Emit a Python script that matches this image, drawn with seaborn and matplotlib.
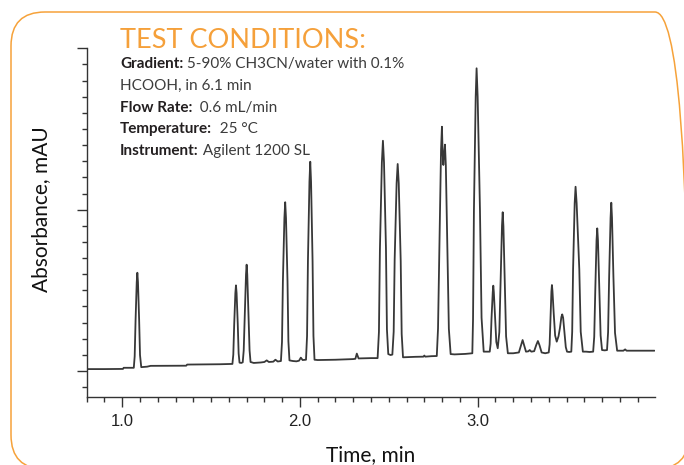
import numpy as np
import pandas as pd
import matplotlib
matplotlib.use("Agg")
import matplotlib.pyplot as plt
from matplotlib.ticker import MultipleLocator
from matplotlib.patches import FancyBboxPatch
from matplotlib.transforms import IdentityTransform
import seaborn as sns

# ---- chromatogram trace (time in min, absorbance in arbitrary mAU units)
trace_time = [
    0.800, 0.900, 1.004, 1.008, 1.050,
    1.065, 1.070, 1.075, 1.0815, 1.085, 1.0885, 1.095, 1.100, 1.107,
    1.140, 1.160, 1.360, 1.365, 1.550, 1.620,
    1.625, 1.630, 1.6365, 1.640, 1.6435, 1.650, 1.655, 1.660,
    1.670,
    1.678, 1.6835, 1.690, 1.6965, 1.700, 1.7035, 1.710, 1.7165, 1.722,
    1.740, 1.780, 1.800, 1.813, 1.825, 1.850, 1.862, 1.875, 1.893,
    1.899, 1.904, 1.9125, 1.917, 1.9215, 1.930, 1.935, 1.941,
    1.960, 1.980, 1.995, 2.005, 2.015, 2.034,
    2.040, 2.045, 2.0535, 2.058, 2.0625, 2.071, 2.076, 2.082,
    2.100, 2.200, 2.250, 2.300, 2.312, 2.320, 2.330, 2.400, 2.437,
    2.4445, 2.450, 2.461, 2.467, 2.473, 2.484, 2.4895, 2.497,
    2.510,
    2.520, 2.5275, 2.533, 2.544, 2.550, 2.556, 2.567, 2.5725, 2.580,
    2.600, 2.650, 2.695, 2.700, 2.705, 2.740, 2.770,
    2.777, 2.785, 2.794, 2.799, 2.803, 2.807, 2.811, 2.816, 2.821, 2.830, 2.838, 2.848,
    2.870, 2.930, 2.970,
    2.974, 2.979, 2.989, 2.994, 3.000, 3.013, 3.022, 3.034,
    3.054, 3.068,
    3.073, 3.078, 3.085, 3.088, 3.091, 3.098, 3.105, 3.113,
    3.122, 3.129, 3.137, 3.141, 3.145, 3.153, 3.160, 3.170,
    3.200, 3.232,
    3.243, 3.253, 3.263, 3.272,
    3.285, 3.293, 3.302, 3.318,
    3.330, 3.339, 3.348, 3.360,
    3.380, 3.400,
    3.405, 3.410, 3.415, 3.418, 3.421, 3.428, 3.436, 3.445,
    3.455, 3.463, 3.471, 3.476, 3.481, 3.489, 3.496, 3.503,
    3.515, 3.527,
    3.532, 3.537, 3.546, 3.551, 3.557, 3.572, 3.580, 3.592,
    3.610, 3.630, 3.650,
    3.656, 3.662, 3.669, 3.673, 3.677, 3.685, 3.692, 3.700,
    3.715, 3.728,
    3.734, 3.740, 3.748, 3.752, 3.756, 3.764, 3.773, 3.785,
    3.820, 3.830, 3.838, 3.995,
]
trace_abs = [
    1.2, 1.2, 1.3, 2.0, 2.0,
    2.0, 9.1, 31.5, 55.0, 60.9, 55.1, 32.0, 9.9, 2.4,
    2.7, 3.2, 3.3, 4.0, 4.2, 4.4,
    10.2, 28.8, 48.2, 53.1, 48.3, 29.2, 10.9, 5.2,
    5.0,
    5.4, 12.7, 35.7, 59.9, 65.9, 59.9, 35.8, 12.8, 5.6,
    5.0, 5.3, 5.6, 6.6, 5.6, 5.8, 7.0, 5.9, 6.2,
    18.0, 55.4, 94.8, 104.6, 94.8, 55.6, 18.4, 6.6,
    6.2, 6.0, 6.4, 8.3, 6.8, 7.0,
    21.7, 68.4, 117.4, 129.7, 117.4, 68.4, 21.7, 7.0,
    6.8, 7.0, 7.2, 7.4, 7.6, 10.8, 7.8, 8.0, 8.0,
    24.2, 75.4, 129.2, 142.7, 129.4, 76.3, 25.8, 10.5,
    9.9,
    10.2, 24.4, 69.2, 116.5, 128.3, 116.3, 68.4, 22.9, 8.5,
    8.6, 8.8, 8.9, 9.6, 8.9, 9.2, 9.3,
    26.3, 80.3, 137.0, 151.4, 135.0, 127.7, 134.0, 140.3, 127.3, 75.4, 26.1, 10.5,
    10.3, 10.6, 11.0,
    32.0, 99.0, 170.0, 187.6, 170.0, 100.0, 33.0, 12.0,
    12.0, 12.0,
    16.9, 32.5, 48.9, 52.9, 48.9, 33.5, 18.0, 14.1,
    24.1, 56.1, 90.1, 98.4, 89.7, 54.7, 21.5, 11.0,
    11.0, 11.5,
    15.5, 19.2, 15.5, 12.0,
    12.2, 13.0, 12.0, 12.3,
    16.2, 18.6, 16.0, 11.5,
    11.0, 11.5,
    16.5, 32.4, 49.1, 53.3, 49.6, 35.8, 22.0, 18.2,
    21.5, 26.6, 33.4, 35.1, 33.0, 23.5, 14.8, 12.0,
    11.8, 12.0,
    24.3, 63.1, 104.0, 114.2, 104.0, 63.1, 24.3, 12.0,
    12.0, 11.8, 12.0,
    21.2, 50.2, 81.0, 88.4, 81.0, 50.7, 22.0, 13.0,
    12.8, 13.0,
    24.0, 58.7, 95.0, 104.3, 95.0, 58.5, 23.6, 12.6,
    12.6, 13.4, 12.6, 12.6,
]

x_major = [1.0, 2.0, 3.0]
x_major_labels = ["1.0", "2.0", "3.0"]
y_major = [0, 100, 200]

title_text = "TEST CONDITIONS:"
cond_bold = ["Gradient:", "", "Flow Rate:", "Temperature:", "Instrument:"]
cond_value = [" 5-90% CH3CN/water with 0.1%", "HCOOH, in 6.1 min", "  0.6 mL/min",
              "  25 \u00b0C", " Agilent 1200 SL"]

df = pd.DataFrame({"time": trace_time, "abs": trace_abs})

sns.set_style("ticks")
plt.rcParams["font.family"] = ["Lato", "DejaVu Sans"]

W, H = 684, 465
fig = plt.figure(figsize=(W / 100, H / 100), dpi=100)
ax = fig.add_axes([86.7 / W, (H - 397) / H, (655 - 86.7) / W, (397 - 48.3) / H])

sns.lineplot(data=df, x="time", y="abs", ax=ax, color="#383838", linewidth=1.3,
             estimator=None, sort=False)

ax.set_xlim(0.8, 3.998)
ax.set_ylim(-16.1, 200)

for s in ["top", "right"]:
    ax.spines[s].set_visible(False)
for s in ["left", "bottom"]:
    ax.spines[s].set_color("#333333")
    ax.spines[s].set_linewidth(1.0)

ax.set_xticks(x_major)
ax.set_xticklabels(x_major_labels, fontfamily="Liberation Sans", fontsize=12, color="#222222")
ax.xaxis.set_minor_locator(MultipleLocator(0.1))
ax.set_yticks(y_major)
ax.yaxis.set_minor_locator(MultipleLocator(10))
ax.tick_params(axis="y", labelleft=False)
ax.tick_params(which="major", direction="out", length=7.5, width=1.0, color="#333333")
ax.tick_params(which="minor", direction="out", length=3.4, width=1.0, color="#333333")
ax.tick_params(axis="x", which="major", pad=5)

ax.set_xlabel("Time, min", fontsize=15, color="#111111")
ax.xaxis.set_label_coords(0.5, -0.139)
ax.set_ylabel("Absorbance, mAU", fontsize=15, color="#111111", va="center")
ax.yaxis.set_label_coords(-0.0804, 0.5377)

# rounded orange frame
frame = FancyBboxPatch((11, -4), 678, 457, boxstyle="round,pad=0,rounding_size=34",
                       transform=IdentityTransform(), fill=False, edgecolor="#F6A23A",
                       linewidth=1.1, zorder=5)
fig.add_artist(frame)

# test conditions text block
fig.text(120 / W, 1 - 28 / H, title_text, fontsize=19.5, fontweight="normal",
         color="#F5A03A", ha="left", va="top")
baselines = [68.3, 90.0, 111.7, 133.3, 155.0]
for b, v, yb in zip(cond_bold, cond_value, baselines):
    if b:
        t = fig.text(120 / W, 1 - yb / H, b, fontsize=11, fontweight="bold",
                     color="#231f20", ha="left", va="baseline")
        ax.annotate(v, xy=(1, 0), xycoords=t, ha="left", va="bottom", fontsize=11,
                    color="#3c3c3c", annotation_clip=False)
    else:
        fig.text(120 / W, 1 - yb / H, v, fontsize=11, color="#3c3c3c",
                 ha="left", va="baseline")

fig.savefig("out.png", dpi=100)
